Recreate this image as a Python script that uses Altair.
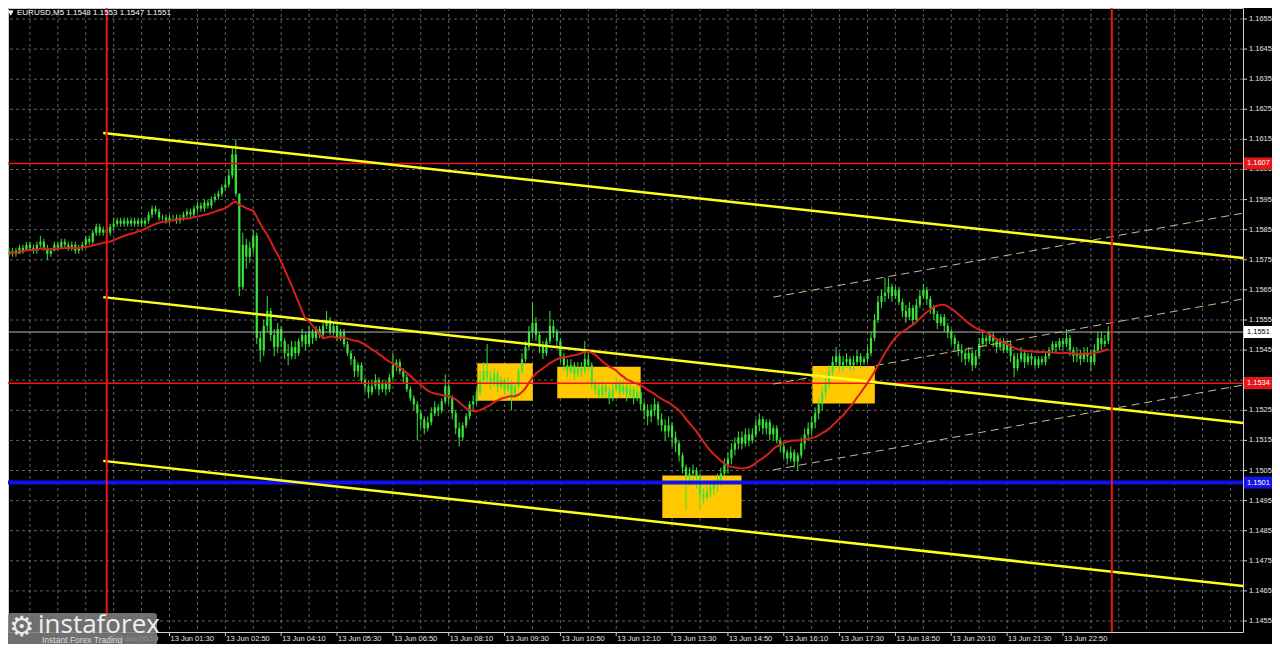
import altair as alt
import pandas as pd

# ---------------- data (EURUSD M5, bars indexed from 13 Jun 00:00) ----------------
bar_start = -28
first_open = 1.1578
close = [
    1.1577, 1.1578, 1.1577, 1.1579, 1.1578, 1.1580, 1.1579, 1.1578, 1.1580, 1.1581,
    1.1579, 1.1577, 1.1578, 1.1580, 1.1579, 1.1581, 1.1580, 1.1579, 1.1580, 1.1578,
    1.1579, 1.1580, 1.1582, 1.1581, 1.1584, 1.1586, 1.1584, 1.1585,
    1.1584, 1.1586, 1.1587, 1.1588, 1.1587, 1.1588, 1.1587, 1.1588, 1.1587, 1.1588,
    1.1587, 1.1588, 1.1590, 1.1592, 1.1591, 1.1589, 1.1589, 1.1588, 1.1589, 1.1589,
    1.1588, 1.1589, 1.1590, 1.1591, 1.1590, 1.1592, 1.1593, 1.1592, 1.1594, 1.1593,
    1.1595, 1.1596, 1.1597, 1.1599, 1.1600, 1.1603, 1.1610, 1.1597, 1.1566, 1.1580,
    1.1576, 1.1579, 1.1583, 1.1549, 1.1545, 1.1553, 1.1558, 1.1550, 1.1546, 1.1552,
    1.1548, 1.1544, 1.1543, 1.1546, 1.1544, 1.1548, 1.1550, 1.1547, 1.1551, 1.1549,
    1.1552, 1.1550, 1.1553, 1.1555, 1.1551, 1.1553, 1.1549, 1.1551, 1.1547, 1.1544,
    1.1542, 1.1538, 1.1540, 1.1535, 1.1533, 1.1531, 1.1533, 1.1535, 1.1532, 1.1534,
    1.1532, 1.1536, 1.1540, 1.1541, 1.1538, 1.1536, 1.1532, 1.1529, 1.1527, 1.1524,
    1.1522, 1.1519, 1.1521, 1.1524, 1.1526, 1.1525, 1.1528, 1.1533, 1.1529, 1.1524,
    1.1519, 1.1516, 1.1520, 1.1523, 1.1527, 1.1528, 1.1531, 1.1535, 1.1538, 1.1536,
    1.1534, 1.1537, 1.1533, 1.1535, 1.1532, 1.1534, 1.1530, 1.1533, 1.1538, 1.1542,
    1.1546, 1.1551, 1.1554, 1.1550, 1.1546, 1.1544, 1.1548, 1.1553, 1.1551, 1.1548,
    1.1543, 1.1540, 1.1538, 1.1540, 1.1537, 1.1539, 1.1538, 1.1542, 1.1540, 1.1534,
    1.1532, 1.1530, 1.1533, 1.1531, 1.1529, 1.1532, 1.1534, 1.1531, 1.1533, 1.1530,
    1.1532, 1.1529, 1.1531, 1.1527, 1.1525, 1.1523, 1.1525, 1.1527, 1.1522, 1.1520,
    1.1518, 1.1520, 1.1516, 1.1514, 1.1510, 1.1506, 1.1503, 1.1504, 1.1505, 1.1503,
    1.1497, 1.1496, 1.1498, 1.1499, 1.1501, 1.1502, 1.1504, 1.1507, 1.1509, 1.1512,
    1.1514, 1.1516, 1.1514, 1.1517, 1.1515, 1.1517, 1.1520, 1.1522, 1.1519, 1.1521,
    1.1517, 1.1519, 1.1515, 1.1513, 1.1511, 1.1509, 1.1511, 1.1508, 1.1510, 1.1514,
    1.1517, 1.1519, 1.1521, 1.1524, 1.1527, 1.1531, 1.1534, 1.1538, 1.1541, 1.1543,
    1.1540, 1.1541, 1.1542, 1.1540, 1.1541, 1.1543, 1.1541, 1.1542, 1.1544, 1.1549,
    1.1555, 1.1561, 1.1563, 1.1564, 1.1566, 1.1563, 1.1565, 1.1561, 1.1558, 1.1556,
    1.1559, 1.1555, 1.1560, 1.1563, 1.1565, 1.1562, 1.1559, 1.1557, 1.1554, 1.1556,
    1.1553, 1.1551, 1.1549, 1.1547, 1.1545, 1.1544, 1.1542, 1.1544, 1.1540, 1.1543,
    1.1547, 1.1549, 1.1548, 1.1550, 1.1548, 1.1546, 1.1548, 1.1545, 1.1547, 1.1543,
    1.1539, 1.1542, 1.1544, 1.1541, 1.1543, 1.1542, 1.1540, 1.1542, 1.1541, 1.1543,
    1.1545, 1.1547, 1.1546, 1.1548, 1.1547, 1.1549, 1.1545, 1.1543, 1.1544, 1.1542,
    1.1544, 1.1543, 1.1541, 1.1545, 1.1549, 1.1547, 1.1548, 1.1551,
]
high = [
    1.1579, 1.1579, 1.1579, 1.1580, 1.1580, 1.1581, 1.1581, 1.1580, 1.1581, 1.1583,
    1.1582, 1.1580, 1.1579, 1.1581, 1.1581, 1.1582, 1.1582, 1.1581, 1.1581, 1.1581,
    1.1580, 1.1581, 1.1583, 1.1583, 1.1585, 1.1587, 1.1587, 1.1586,
    1.1586, 1.1587, 1.1589, 1.1589, 1.1589, 1.1589, 1.1589, 1.1589, 1.1589, 1.1589,
    1.1589, 1.1589, 1.1591, 1.1593, 1.1593, 1.1592, 1.1590, 1.1590, 1.1590, 1.1590,
    1.1590, 1.1590, 1.1591, 1.1592, 1.1592, 1.1593, 1.1594, 1.1594, 1.1595, 1.1595,
    1.1596, 1.1597, 1.1598, 1.1600, 1.1602, 1.1605, 1.1612, 1.1615, 1.1597, 1.1584,
    1.1582, 1.1581, 1.1585, 1.1584, 1.1551, 1.1555, 1.1563, 1.1559, 1.1552, 1.1554,
    1.1553, 1.1549, 1.1547, 1.1548, 1.1548, 1.1549, 1.1552, 1.1551, 1.1553, 1.1552,
    1.1553, 1.1553, 1.1554, 1.1558, 1.1556, 1.1554, 1.1554, 1.1552, 1.1552, 1.1548,
    1.1545, 1.1543, 1.1541, 1.1541, 1.1536, 1.1535, 1.1535, 1.1537, 1.1536, 1.1535,
    1.1535, 1.1537, 1.1544, 1.1542, 1.1542, 1.1539, 1.1537, 1.1533, 1.1530, 1.1528,
    1.1525, 1.1523, 1.1523, 1.1526, 1.1528, 1.1527, 1.1529, 1.1537, 1.1535, 1.1530,
    1.1525, 1.1521, 1.1521, 1.1524, 1.1528, 1.1530, 1.1532, 1.1538, 1.1541, 1.1547,
    1.1538, 1.1539, 1.1538, 1.1536, 1.1536, 1.1536, 1.1535, 1.1534, 1.1539, 1.1544,
    1.1548, 1.1553, 1.1561, 1.1556, 1.1551, 1.1548, 1.1549, 1.1558, 1.1555, 1.1552,
    1.1549, 1.1544, 1.1542, 1.1542, 1.1541, 1.1541, 1.1541, 1.1548, 1.1544, 1.1541,
    1.1535, 1.1534, 1.1535, 1.1534, 1.1533, 1.1534, 1.1536, 1.1535, 1.1535, 1.1534,
    1.1534, 1.1533, 1.1533, 1.1532, 1.1528, 1.1527, 1.1527, 1.1529, 1.1528, 1.1524,
    1.1522, 1.1523, 1.1521, 1.1518, 1.1515, 1.1511, 1.1507, 1.1506, 1.1507, 1.1506,
    1.1504, 1.1499, 1.1500, 1.1501, 1.1502, 1.1504, 1.1506, 1.1509, 1.1511, 1.1514,
    1.1516, 1.1518, 1.1518, 1.1519, 1.1519, 1.1519, 1.1522, 1.1524, 1.1523, 1.1522,
    1.1522, 1.1520, 1.1520, 1.1516, 1.1514, 1.1512, 1.1513, 1.1512, 1.1511, 1.1516,
    1.1519, 1.1521, 1.1523, 1.1526, 1.1529, 1.1533, 1.1536, 1.1540, 1.1543, 1.1546,
    1.1544, 1.1543, 1.1544, 1.1543, 1.1543, 1.1545, 1.1544, 1.1543, 1.1546, 1.1551,
    1.1557, 1.1563, 1.1565, 1.1569, 1.1569, 1.1567, 1.1566, 1.1566, 1.1562, 1.1560,
    1.1561, 1.1560, 1.1562, 1.1565, 1.1567, 1.1566, 1.1563, 1.1560, 1.1558, 1.1557,
    1.1557, 1.1554, 1.1552, 1.1550, 1.1548, 1.1547, 1.1545, 1.1546, 1.1545, 1.1545,
    1.1549, 1.1551, 1.1550, 1.1551, 1.1551, 1.1549, 1.1549, 1.1549, 1.1548, 1.1548,
    1.1544, 1.1544, 1.1546, 1.1545, 1.1544, 1.1544, 1.1543, 1.1543, 1.1543, 1.1544,
    1.1546, 1.1548, 1.1548, 1.1549, 1.1549, 1.1552, 1.1550, 1.1546, 1.1546, 1.1545,
    1.1546, 1.1546, 1.1545, 1.1547, 1.1551, 1.1551, 1.1550, 1.1553,
]
low = [
    1.1576, 1.1576, 1.1576, 1.1577, 1.1577, 1.1578, 1.1578, 1.1577, 1.1577, 1.1579,
    1.1578, 1.1575, 1.1576, 1.1578, 1.1578, 1.1579, 1.1579, 1.1578, 1.1578, 1.1577,
    1.1577, 1.1578, 1.1579, 1.1580, 1.1580, 1.1583, 1.1583, 1.1583,
    1.1582, 1.1583, 1.1585, 1.1586, 1.1586, 1.1586, 1.1586, 1.1586, 1.1586, 1.1586,
    1.1586, 1.1586, 1.1587, 1.1589, 1.1590, 1.1588, 1.1588, 1.1587, 1.1587, 1.1588,
    1.1587, 1.1587, 1.1588, 1.1589, 1.1589, 1.1589, 1.1591, 1.1591, 1.1591, 1.1592,
    1.1592, 1.1594, 1.1595, 1.1596, 1.1598, 1.1599, 1.1602, 1.1596, 1.1563, 1.1565,
    1.1572, 1.1574, 1.1577, 1.1547, 1.1541, 1.1543, 1.1551, 1.1548, 1.1543, 1.1544,
    1.1546, 1.1542, 1.1540, 1.1542, 1.1542, 1.1543, 1.1546, 1.1545, 1.1546, 1.1547,
    1.1548, 1.1549, 1.1549, 1.1552, 1.1550, 1.1550, 1.1548, 1.1548, 1.1546, 1.1543,
    1.1540, 1.1536, 1.1536, 1.1534, 1.1531, 1.1529, 1.1530, 1.1532, 1.1530, 1.1531,
    1.1530, 1.1531, 1.1535, 1.1538, 1.1537, 1.1534, 1.1531, 1.1528, 1.1525, 1.1515,
    1.1519, 1.1517, 1.1518, 1.1520, 1.1523, 1.1523, 1.1524, 1.1527, 1.1527, 1.1522,
    1.1517, 1.1513, 1.1515, 1.1519, 1.1522, 1.1525, 1.1527, 1.1530, 1.1534, 1.1534,
    1.1532, 1.1533, 1.1531, 1.1532, 1.1530, 1.1531, 1.1525, 1.1529, 1.1532, 1.1537,
    1.1541, 1.1545, 1.1549, 1.1548, 1.1544, 1.1542, 1.1543, 1.1547, 1.1549, 1.1546,
    1.1541, 1.1538, 1.1536, 1.1537, 1.1535, 1.1536, 1.1536, 1.1537, 1.1538, 1.1532,
    1.1530, 1.1529, 1.1529, 1.1529, 1.1527, 1.1528, 1.1531, 1.1529, 1.1530, 1.1528,
    1.1529, 1.1527, 1.1528, 1.1525, 1.1522, 1.1520, 1.1521, 1.1523, 1.1520, 1.1518,
    1.1515, 1.1516, 1.1513, 1.1511, 1.1508, 1.1504, 1.1492, 1.1500, 1.1501, 1.1499,
    1.1492, 1.1494, 1.1495, 1.1496, 1.1497, 1.1498, 1.1500, 1.1503, 1.1504, 1.1507,
    1.1510, 1.1512, 1.1512, 1.1513, 1.1513, 1.1514, 1.1516, 1.1518, 1.1517, 1.1517,
    1.1515, 1.1515, 1.1514, 1.1511, 1.1509, 1.1507, 1.1508, 1.1506, 1.1505, 1.1509,
    1.1512, 1.1515, 1.1517, 1.1519, 1.1522, 1.1525, 1.1529, 1.1532, 1.1536, 1.1539,
    1.1538, 1.1538, 1.1539, 1.1538, 1.1538, 1.1540, 1.1539, 1.1540, 1.1541, 1.1543,
    1.1548, 1.1554, 1.1559, 1.1561, 1.1562, 1.1561, 1.1562, 1.1560, 1.1556, 1.1554,
    1.1555, 1.1553, 1.1554, 1.1559, 1.1562, 1.1560, 1.1557, 1.1555, 1.1552, 1.1553,
    1.1551, 1.1549, 1.1547, 1.1545, 1.1543, 1.1541, 1.1540, 1.1541, 1.1538, 1.1539,
    1.1542, 1.1546, 1.1546, 1.1547, 1.1546, 1.1544, 1.1545, 1.1544, 1.1544, 1.1541,
    1.1536, 1.1538, 1.1541, 1.1539, 1.1540, 1.1540, 1.1539, 1.1539, 1.1540, 1.1540,
    1.1542, 1.1544, 1.1544, 1.1545, 1.1545, 1.1546, 1.1543, 1.1541, 1.1541, 1.1540,
    1.1541, 1.1541, 1.1538, 1.1540, 1.1544, 1.1545, 1.1546, 1.1547,
]

price_ticks = [1.1455, 1.1465, 1.1475, 1.1485, 1.1495, 1.1505, 1.1515, 1.1525,
               1.1535, 1.1545, 1.1555, 1.1565, 1.1575, 1.1585, 1.1595, 1.1605,
               1.1615, 1.1625, 1.1635, 1.1645, 1.1655]
price_tick_labels = ["1.1455", "1.1465", "1.1475", "1.1485", "1.1495", "1.1505",
                     "1.1515", "1.1525", "1.1535", "1.1545", "1.1555", "1.1565",
                     "1.1575", "1.1585", "1.1595", "1.1605", "1.1615", "1.1625",
                     "1.1635", "1.1645", "1.1655"]
time_tick_bars = [2, 18, 34, 50, 66, 82, 98, 114, 130, 146, 162, 178, 194, 210,
                  226, 242, 258, 274]
time_tick_labels = ["13 Jun 00:10", "13 Jun 01:30", "13 Jun 02:50", "13 Jun 04:10",
                    "13 Jun 05:30", "13 Jun 06:50", "13 Jun 08:10", "13 Jun 09:30",
                    "13 Jun 10:50", "13 Jun 12:10", "13 Jun 13:30", "13 Jun 14:50",
                    "13 Jun 16:10", "13 Jun 17:30", "13 Jun 18:50", "13 Jun 20:10",
                    "13 Jun 21:30", "13 Jun 22:50"]
grid_bars = [-22, -14, -6, 2, 10, 18, 26, 34, 42, 50, 58, 66, 74, 82, 90, 98, 106,
             114, 122, 130, 138, 146, 154, 162, 170, 178, 186, 194, 202, 210, 218,
             226, 234, 242, 250, 258, 266, 274, 282, 290, 298, 306, 314, 322]

day_separators = [0, 288]
red_levels = [1.1607, 1.1534]
blue_levels = [1.1501]
bid_level = [1.1551]

channel_bars = [-1, 325.6]
channel_upper = [1.16171, 1.15756]
channel_middle = [1.15626, 1.15208]
channel_lower = [1.15082, 1.14666]

rise_bars = [191, 325.6]
rise_upper = [1.15626, 1.15905]
rise_middle = [1.15337, 1.15620]
rise_lower = [1.15052, 1.15334]

box_bar1 = [106.2, 129.1, 159.2, 202.2]
box_bar2 = [122.1, 153.0, 181.9, 220.1]
box_top = [1.15406, 1.15395, 1.15033, 1.15397]
box_bottom = [1.15282, 1.15290, 1.14892, 1.15273]

tag_prices = [1.1607, 1.1534, 1.1501, 1.1551]
tag_texts = ["1.1607", "1.1534", "1.1501", "1.1551"]
tag_fill = ["#e3161a", "#e3161a", "#1414e6", "#ffffff"]
tag_ink = ["#ffffff", "#ffffff", "#ffffff", "#000000"]

title_text = "EURUSD,M5  1.1548 1.1553 1.1547 1.1551"

# ---------------- tables ----------------
n = len(close)
bars = list(range(bar_start, bar_start + n))
opens = [first_open] + close[:-1]
candles = pd.DataFrame({
    "i": bars, "o": opens, "c": close,
    "h": [max(a, b, c) for a, b, c in zip(high, opens, close)],
    "l": [min(a, b, c) for a, b, c in zip(low, opens, close)],
})

chan = pd.DataFrame({
    "i": channel_bars * 3,
    "p": channel_upper + channel_middle + channel_lower,
    "g": ["u", "u", "m", "m", "l", "l"],
})
rise = pd.DataFrame({
    "i": rise_bars * 3,
    "p": rise_upper + rise_middle + rise_lower,
    "g": ["u", "u", "m", "m", "l", "l"],
})
boxes = pd.DataFrame({"i1": box_bar1, "i2": box_bar2, "p1": box_top, "p2": box_bottom})
tags = pd.DataFrame({"p": tag_prices, "t": tag_texts, "f": tag_fill, "k": tag_ink})

# ---------------- geometry ----------------
W, H = 1235, 624
xs = alt.Scale(domain=[-28.28, 325.59], nice=False, zero=False)
ys = alt.Scale(domain=[1.145135, 1.165865], nice=False, zero=False)
X = lambda f: alt.X(f, scale=xs, axis=None)
Y = lambda f: alt.Y(f, scale=ys, axis=None)

GREEN = "#38e438"
GRID = "#8a8a8a"
LABEL = "#e4e4e4"
FONT = "Liberation Sans"

hgrid = alt.Chart(pd.DataFrame({"p": price_ticks})).mark_rule(
    color=GRID, strokeDash=[3, 3], strokeWidth=1, opacity=0.7
).encode(y=Y("p:Q"))
vgrid = alt.Chart(pd.DataFrame({"i": grid_bars})).mark_rule(
    color=GRID, strokeDash=[3, 3], strokeWidth=1, opacity=0.7
).encode(x=X("i:Q"))

yticks = alt.Chart(pd.DataFrame({"p": price_ticks})).mark_rule(
    color="#cfcfcf", strokeWidth=1
).encode(y=Y("p:Q"), x=alt.value(W), x2=alt.value(W + 4))
ylabels = alt.Chart(pd.DataFrame({"p": price_ticks, "t": price_tick_labels})).mark_text(
    color=LABEL, font=FONT, fontSize=7.5, align="left", baseline="middle"
).encode(y=Y("p:Q"), x=alt.value(W + 6), text="t:N")

xticks = alt.Chart(pd.DataFrame({"i": time_tick_bars})).mark_rule(
    color="#cfcfcf", strokeWidth=1
).encode(x=X("i:Q"), y=alt.value(H), y2=alt.value(H + 4))
xlabels = alt.Chart(pd.DataFrame({"i": time_tick_bars, "t": time_tick_labels})).mark_text(
    color=LABEL, font=FONT, fontSize=7.5, align="left", baseline="middle", dx=1
).encode(x=X("i:Q"), y=alt.value(H + 7), text="t:N")

box_layer = alt.Chart(boxes).mark_rect(color="#ffc800", clip=True).encode(
    x=X("i1:Q"), x2="i2:Q", y=Y("p1:Q"), y2="p2:Q")

wicks = alt.Chart(candles).mark_rule(color=GREEN, strokeWidth=1, clip=True).encode(
    x=X("i:Q"), y=Y("l:Q"), y2="h:Q")
bodies = alt.Chart(candles).mark_rule(color=GREEN, strokeWidth=2.2, clip=True).encode(
    x=X("i:Q"), y=Y("o:Q"), y2="c:Q")

ma = alt.Chart(candles).transform_window(
    ma="mean(c)", frame=[-19, 0], sort=[alt.SortField("i")]
).mark_line(color="#d81e1e", strokeWidth=2, clip=True).encode(x=X("i:Q"), y=Y("ma:Q"))

red_lines = alt.Chart(pd.DataFrame({"p": red_levels})).mark_rule(
    color="#f01414", strokeWidth=1.4).encode(y=Y("p:Q"))
blue_line = alt.Chart(pd.DataFrame({"p": blue_levels})).mark_rule(
    color="#1010f0", strokeWidth=4).encode(y=Y("p:Q"))
bid_line = alt.Chart(pd.DataFrame({"p": bid_level})).mark_rule(
    color="#b8b8b8", strokeWidth=1).encode(y=Y("p:Q"))

chan_layer = alt.Chart(chan).mark_line(color="#ffff1e", strokeWidth=2.5, clip=True).encode(
    x=X("i:Q"), y=Y("p:Q"), detail="g:N")
rise_layer = alt.Chart(rise).mark_line(
    color="#cdbb8c", strokeWidth=1, strokeDash=[8, 5], clip=True
).encode(x=X("i:Q"), y=Y("p:Q"), detail="g:N")

day_lines = alt.Chart(pd.DataFrame({"i": day_separators})).mark_rule(
    color="#e81818", strokeWidth=2).encode(x=X("i:Q"))

tag_boxes = alt.Chart(tags).mark_rect(yOffset=-6, y2Offset=6).encode(
    x=alt.value(W + 1), x2=alt.value(W + 29), y=Y("p:Q"), y2="p:Q",
    color=alt.Color("f:N", scale=None))
tag_text = alt.Chart(tags).mark_text(
    font=FONT, fontSize=7.5, align="left", baseline="middle"
).encode(x=alt.value(W + 4), y=Y("p:Q"), text="t:N", color=alt.Color("k:N", scale=None))

title_tri = alt.Chart(pd.DataFrame({"t": ["▼"]})).mark_text(
    color="#ffffff", fontSize=7, align="left", baseline="middle", font="DejaVu Sans"
).encode(x=alt.value(0), y=alt.value(5), text="t:N")
title = alt.Chart(pd.DataFrame({"t": [title_text]})).mark_text(
    color="#ffffff", fontSize=8, align="left", baseline="middle", font=FONT
).encode(x=alt.value(9), y=alt.value(5), text="t:N")

logo_box = alt.Chart(pd.DataFrame({"a": [0]})).mark_rect(
    color="#7e7e7e", opacity=0.88, cornerRadius=3
).encode(x=alt.value(0), x2=alt.value(149), y=alt.value(605), y2=alt.value(642))
logo_gear = alt.Chart(pd.DataFrame({"t": ["⚙"]})).mark_text(
    color="#ececec", fontSize=28, align="left", baseline="middle", font="DejaVu Sans"
).encode(x=alt.value(1), y=alt.value(620), text="t:N")
logo_word = alt.Chart(pd.DataFrame({"t": ["instaforex"]})).mark_text(
    color="#f0f0f0", fontSize=26, align="left", baseline="middle", font="Open Sans"
).encode(x=alt.value(30), y=alt.value(617), text="t:N")
logo_sub = alt.Chart(pd.DataFrame({"t": ["Instant Forex Trading"]})).mark_text(
    color="#dcdcdc", fontSize=8.5, align="left", baseline="middle", font=FONT
).encode(x=alt.value(34), y=alt.value(632), text="t:N")

chart = alt.layer(
    hgrid, vgrid, box_layer, wicks, bodies, red_lines, bid_line, blue_line,
    rise_layer, chan_layer, ma, day_lines, yticks, ylabels, xticks, xlabels,
    tag_boxes, tag_text, title_tri, title, logo_box, logo_gear, logo_word, logo_sub
).properties(
    width=W, height=H, autosize="none",
    padding={"left": 0, "top": 0, "right": 29, "bottom": 12},
).configure(background="#000000").configure_view(stroke="#cfcfcf", strokeWidth=1)

chart.save("out.html", embed_options={"renderer": "svg", "actions": False})
